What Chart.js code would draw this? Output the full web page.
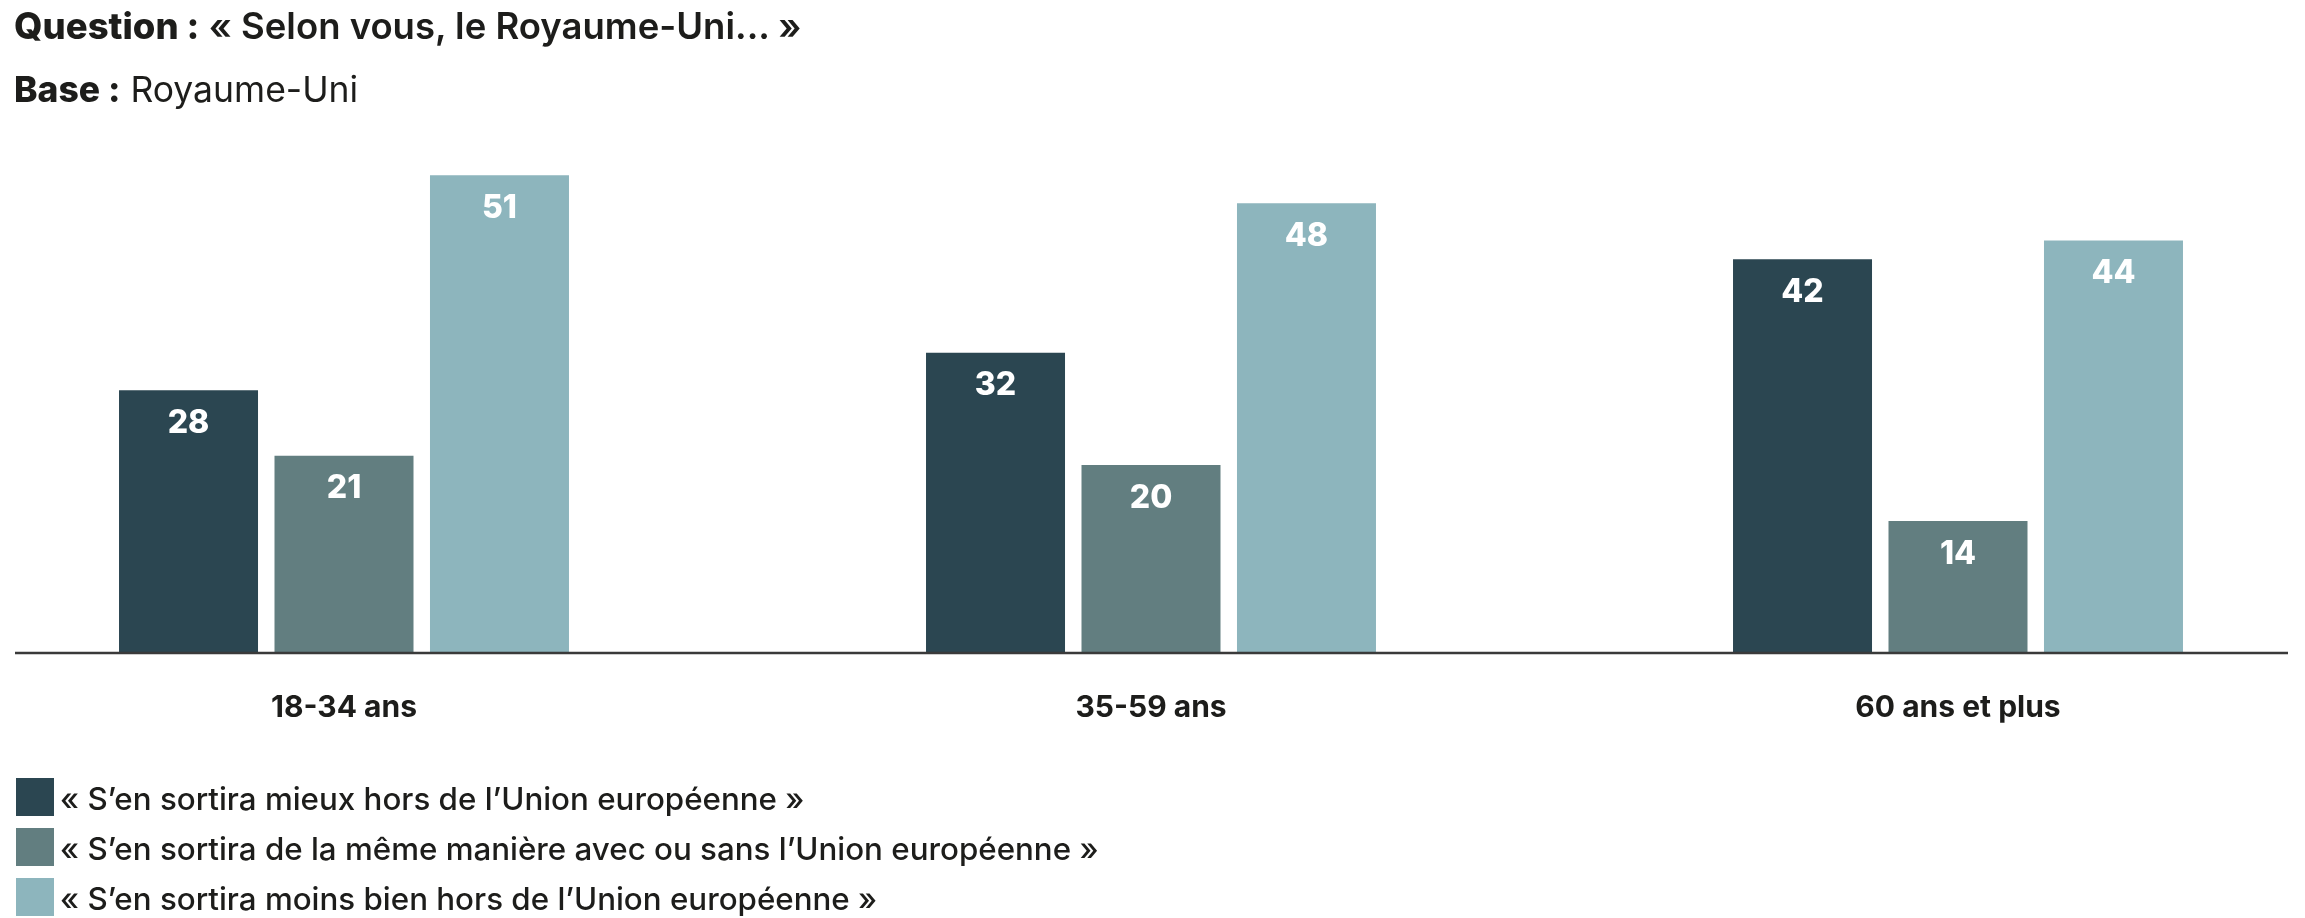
<!DOCTYPE html>
<html lang="fr">
<head>
<meta charset="utf-8">
<title>Royaume-Uni</title>
<script src="https://cdn.jsdelivr.net/npm/chart.js@4.4.1/dist/chart.umd.min.js"></script>
<style>
  html, body { margin: 0; padding: 0; background: #fff; }
  body { font-family: Inter, "Open Sans", sans-serif; color: #1d1d1b; }
  #wrap { position: relative; width: 2305px; height: 918px; overflow: hidden; }
  #wrap canvas { position: absolute; left: 0; top: 0; }
  .head { position: absolute; left: 14px; line-height: 1; white-space: nowrap; }
  #q { top: 8px; font-size: 36.5px; font-weight: 600; }
  #b { top: 72px; font-size: 35.5px; font-weight: 400; }
  .head b { font-weight: 800; }
  #legend { position: absolute; left: 16px; top: 772px; font-size: 31.3px; font-weight: 500; }
  #legend .row { display: flex; align-items: center; height: 50px; white-space: nowrap; }
  #legend .sw { width: 38px; height: 38px; margin-right: 6px; flex: none; }
  #legend .tx { padding-top: 3px; }
</style>
</head>
<body>
<div id="wrap">
  <canvas id="chart"></canvas>
  <div class="head" id="q"><b>Question :</b> « Selon vous, le Royaume-Uni... »</div>
  <div class="head" id="b"><b>Base :</b> Royaume-Uni</div>
  <div id="legend"></div>
</div>
<script>
const ageGroups = ["18-34 ans", "35-59 ans", "60 ans et plus"];
const seriesNames = [
  "« S’en sortira mieux hors de l’Union européenne »",
  "« S’en sortira de la même manière avec ou sans l’Union européenne »",
  "« S’en sortira moins bien hors de l’Union européenne »"
];
const mieuxHors = [28, 32, 42];
const memeManiere = [21, 20, 14];
const moinsBien = [51, 48, 44];
const seriesColors = ["#2b4651", "#627e80", "#8db5bd"];

// value labels inside the top of each bar
const barLabels = {
  id: 'barLabels',
  afterDatasetsDraw(chart) {
    const ctx = chart.ctx;
    ctx.save();
    ctx.fillStyle = '#ffffff';
    ctx.font = '800 32px Inter';
    ctx.textAlign = 'center';
    ctx.textBaseline = 'middle';
    chart.data.datasets.forEach((ds, i) => {
      chart.getDatasetMeta(i).data.forEach((bar, j) => {
        ctx.fillText(ds.data[j], bar.x, bar.y + 33);
      });
    });
    ctx.restore();
  }
};

// baseline across the whole width
const baseLine = {
  id: 'baseLine',
  afterDatasetsDraw(chart) {
    const ctx = chart.ctx;
    const y = chart.scales.y.getPixelForValue(0);
    ctx.save();
    ctx.strokeStyle = '#3a3a3a';
    ctx.lineWidth = 2.5;
    ctx.beginPath();
    ctx.moveTo(15, y + 1);
    ctx.lineTo(2288, y + 1);
    ctx.stroke();
    ctx.restore();
  }
};

const values = [mieuxHors, memeManiere, moinsBien];

const chart = new Chart(document.getElementById('chart'), {
  type: 'bar',
  data: {
    labels: ageGroups,
    datasets: values.map((v, i) => ({
      label: seriesNames[i],
      data: v,
      backgroundColor: seriesColors[i],
      borderWidth: 0,
      clip: false,
      barPercentage: 0.894,
      categoryPercentage: 0.578
    }))
  },
  options: {
    responsive: true,
    maintainAspectRatio: false,
    animation: false,
    layout: { padding: { left: 344, right: 347, top: 91, bottom: 154 } },
    plugins: {
      legend: { display: false },
      tooltip: { enabled: false }
    },
    scales: {
      x: {
        offset: false,
        grid: { display: false, drawTicks: false, offset: false },
        border: { display: false },
        ticks: {
          padding: 38,
          color: '#1d1d1b',
          font: { family: 'Inter', size: 30, weight: '700' }
        }
      },
      y: {
        display: false,
        min: 0,
        max: 60
      }
    }
  },
  plugins: [barLabels, baseLine]
});

// html legend from the datasets
const legend = document.getElementById('legend');
chart.data.datasets.forEach((ds) => {
  const row = document.createElement('div');
  row.className = 'row';
  const sw = document.createElement('span');
  sw.className = 'sw';
  sw.style.background = ds.backgroundColor;
  const tx = document.createElement('span');
  tx.className = 'tx';
  tx.textContent = ds.label;
  row.appendChild(sw);
  row.appendChild(tx);
  legend.appendChild(row);
});
</script>
</body>
</html>
